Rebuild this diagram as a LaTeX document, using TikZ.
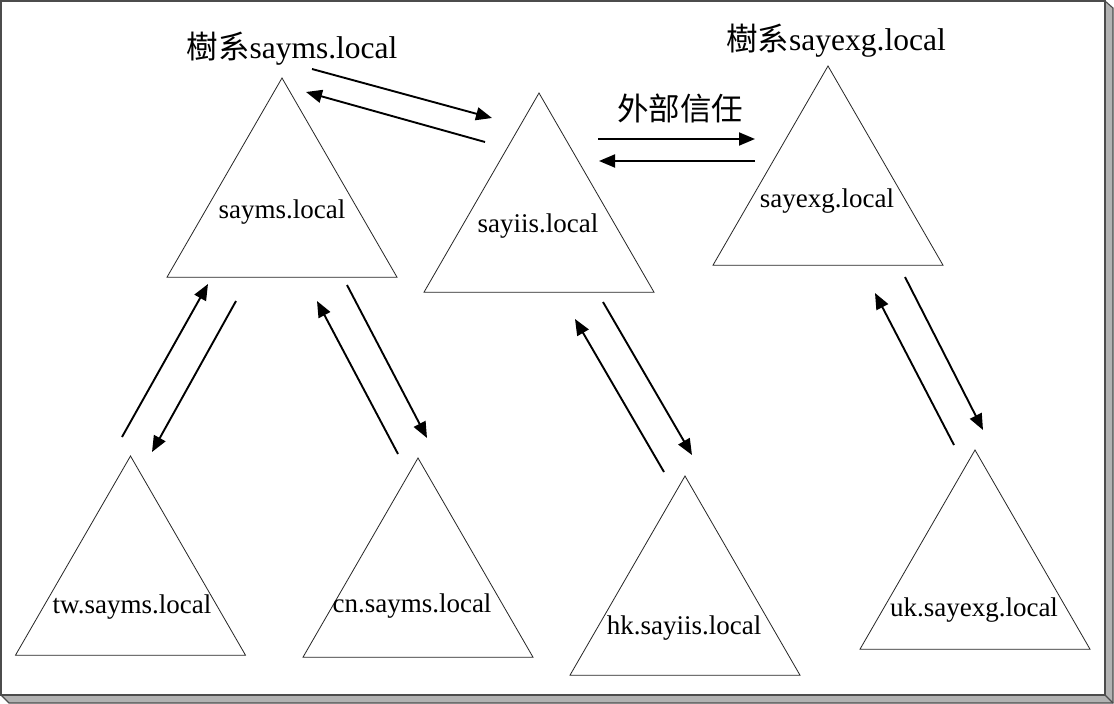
\documentclass[tikz,border=0pt]{standalone}
\usepackage{fontspec}
\setmainfont{Liberation Serif}
\newfontfamily\cjkfont{Noto Sans CJK TC}
\usetikzlibrary{shapes.geometric,arrows.meta}
\tikzset{
  tri/.style={draw=black!85, line width=0.8pt, regular polygon, regular polygon sides=3, minimum size=265.6pt, inner sep=0pt},
  lbl/.style={anchor=base, inner sep=0pt, font=\fontsize{27}{31}\selectfont},
  ttl/.style={anchor=base, inner sep=0pt, font=\fontsize{31.5}{36}\selectfont},
  link/.style={line width=1.9pt, -{Triangle[length=16pt,width=13pt]}},
  shadowface/.style={fill=black!30},
  frameedge/.style={draw=black!70, line width=1.1pt},
}
\begin{document}
\begin{tikzpicture}[x=1pt,y=-1pt]
\useasboundingbox (0,0) rectangle (1114,704);
% frame with 3D shadow
\fill[shadowface] (1105,1) -- (1113,8) -- (1113,703) -- (9,703) -- (1,695) -- (1105,695) -- cycle;
\draw[frameedge] (1105,1) -- (1113,8) -- (1113,703) -- (9,703) -- (1,695);
\draw[frameedge] (1105,695) -- (1113,703);
\draw[frameedge, fill=white] (1,1) rectangle (1105,695);

% triangles
\node[tri] (t1) at (282,210.8) {};
\node[tri] (t2) at (539,225.8) {};
\node[tri] (t3) at (828,198.8) {};
\node[tri] (t4) at (130.5,588.8) {};
\node[tri] (t5) at (418,590.8) {};
\node[tri] (t6) at (685,608.8) {};
\node[tri] (t7) at (975,582.8) {};

% labels
\node[lbl] (l1) at (282,218) {sayms.local};
\node[lbl] (l2) at (538,232) {sayiis.local};
\node[lbl] (l3) at (827,207) {sayexg.local};
\node[lbl] (l4) at (132,613) {tw.sayms.local};
\node[lbl] (l5) at (412,612) {cn.sayms.local};
\node[lbl] (l6) at (684,634) {hk.sayiis.local};
\node[lbl] (l7) at (974,616) {uk.sayexg.local};

% titles
\node[ttl] (h1) at (292,58) {{\cjkfont 樹系}sayms.local};
\node[ttl] (h2) at (836,50) {{\cjkfont 樹系}sayexg.local};
\node[ttl] (h3) at (680,120) {\cjkfont 外部信任};

% arrow end points
\coordinate (a1s) at (312,69);   \coordinate (a1e) at (492,118);
\coordinate (a2s) at (485,142);  \coordinate (a2e) at (306,92);
\coordinate (a3s) at (598,139);  \coordinate (a3e) at (755,139);
\coordinate (a4s) at (755,161);  \coordinate (a4e) at (599,161);
\coordinate (a5s) at (122,437);  \coordinate (a5e) at (208,284);
\coordinate (a6s) at (236,301);  \coordinate (a6e) at (152,452);
\coordinate (a7s) at (398,454);  \coordinate (a7e) at (317,301);
\coordinate (a8s) at (347,285);  \coordinate (a8e) at (427,438);
\coordinate (a9s) at (664,472);  \coordinate (a9e) at (575,319);
\coordinate (a10s) at (603,302); \coordinate (a10e) at (692,455);
\coordinate (a11s) at (954,445); \coordinate (a11e) at (875,293);
\coordinate (a12s) at (905,277); \coordinate (a12e) at (983,430);

\draw[link] (a1s) -- (a1e);
\draw[link] (a2s) -- (a2e);
\draw[link] (a3s) -- (a3e);
\draw[link] (a4s) -- (a4e);
\draw[link] (a5s) -- (a5e);
\draw[link] (a6s) -- (a6e);
\draw[link] (a7s) -- (a7e);
\draw[link] (a8s) -- (a8e);
\draw[link] (a9s) -- (a9e);
\draw[link] (a10s) -- (a10e);
\draw[link] (a11s) -- (a11e);
\draw[link] (a12s) -- (a12e);
\end{tikzpicture}
\end{document}
